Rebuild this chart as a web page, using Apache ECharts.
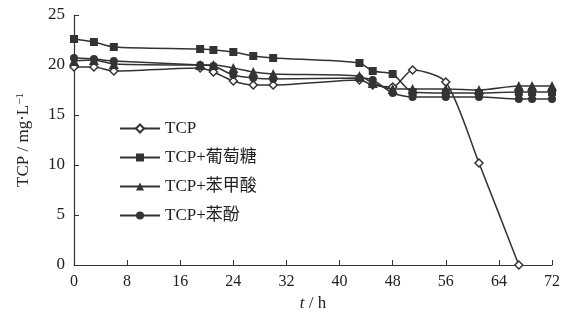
<!DOCTYPE html>
<html><head><meta charset="utf-8">
<script src="https://cdn.jsdelivr.net/npm/echarts@6/dist/echarts.min.js"></script>
<style>html,body{margin:0;padding:0;background:#fff}#c{width:567px;height:320px}</style>
</head><body><div id="c"></div>
<script>
const seriesNames = ['TCP', 'TCP+葡萄糖', 'TCP+苯甲酸', 'TCP+苯酚'];
const tcp = [[0,19.8],[3,19.8],[6,19.4],[19,19.7],[21,19.3],[24,18.4],[27,18.0],[30,18.0],[43,18.5],[45,18.0],[48,17.8],[51,19.5],[56,18.3],[61,10.2],[67,0]];
const glucose = [[0,22.6],[3,22.3],[6,21.8],[19,21.6],[21,21.5],[24,21.3],[27,20.9],[30,20.7],[43,20.2],[45,19.4],[48,19.1],[51,17.3],[56,17.2],[61,17.2],[67,17.3],[69,17.3],[72,17.3]];
const benzoic = [[0,20.4],[3,20.5],[6,20.1],[19,20.0],[21,20.0],[24,19.7],[27,19.3],[30,19.1],[43,18.9],[45,18.2],[48,17.6],[51,17.6],[56,17.6],[61,17.5],[67,17.9],[69,17.9],[72,17.9]];
const phenol = [[0,20.7],[3,20.6],[6,20.4],[19,20.0],[21,19.9],[24,19.0],[27,18.7],[30,18.6],[43,18.7],[45,18.5],[48,17.2],[51,16.8],[56,16.8],[61,16.8],[67,16.6],[69,16.6],[72,16.6]];
const xTicks = [0,8,16,24,32,40,48,56,64,72];
const yTicks = [0,5,10,15,20,25];

const C = '#333';
const serif = '"Liberation Serif","Times New Roman",serif';
function mk(name, data, symbol, hollow) {
  return {
    name, type: 'line', data, symbol, symbolSize: symbol === 'triangle' ? 10 : 8,
    smooth: 0.25,
    lineStyle: { color: C, width: 1.5 },
    itemStyle: { color: hollow ? '#fff' : C, borderColor: C, borderWidth: hollow ? 1.5 : 0 }
  };
}
const chart = echarts.init(document.getElementById('c'), null, { renderer: 'canvas' });
chart.setOption({
  animation: false,
  grid: { left: 74, right: 15, top: 15, bottom: 55 },
  legend: {
    orient: 'vertical', left: 114, top: 115,
    itemWidth: 40, itemHeight: 10, itemGap: 12,
    textStyle: { fontFamily: serif + ',"Noto Sans CJK SC"', fontSize: 17, color: '#222' },
    data: seriesNames
  },
  xAxis: {
    type: 'value', min: xTicks[0], max: xTicks[xTicks.length - 1], interval: 8,
    name: '{i|t} / h', nameLocation: 'middle', nameGap: 28,
    nameTextStyle: { fontFamily: serif, fontSize: 17, color: '#222', rich: { i: { fontStyle: 'italic', fontFamily: serif, fontSize: 17, color: '#222' } } },
    axisLine: { lineStyle: { color: C, width: 1.2 } },
    axisTick: { inside: true, length: 5, lineStyle: { color: C } },
    axisLabel: { fontFamily: serif, fontSize: 16, color: '#222', margin: 9 },
    splitLine: { show: false }
  },
  yAxis: {
    type: 'value', min: yTicks[0], max: yTicks[yTicks.length - 1], interval: 5,
    name: '{a|TCP / mg·L}{s|−1}', nameLocation: 'middle', nameGap: 42, nameRotate: 90,
    nameTextStyle: { rich: { a: { fontFamily: serif, fontSize: 17, color: '#222' }, s: { fontFamily: serif, fontSize: 11, color: '#222', verticalAlign: 'top', padding: [0,0,6,0] } } },
    axisLine: { show: true, lineStyle: { color: C, width: 1.2 } },
    axisTick: { show: true, inside: true, length: 5, lineStyle: { color: C } },
    axisLabel: { fontFamily: serif, fontSize: 17, color: '#222', margin: 9 },
    splitLine: { show: false }
  },
  series: [
    mk(seriesNames[0], tcp, 'diamond', true),
    mk(seriesNames[1], glucose, 'rect', false),
    mk(seriesNames[2], benzoic, 'triangle', false),
    mk(seriesNames[3], phenol, 'circle', false)
  ]
});
</script></body></html>
